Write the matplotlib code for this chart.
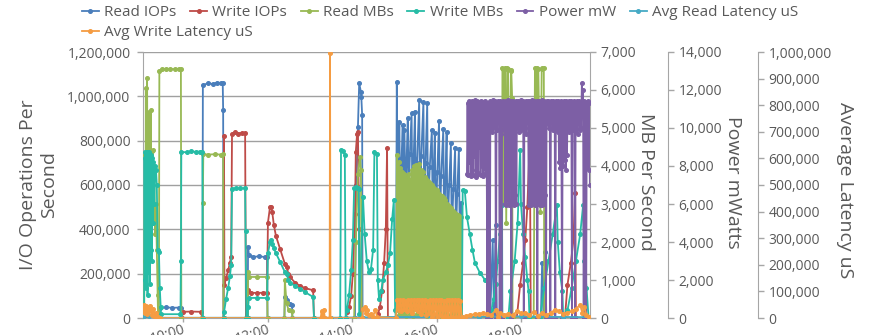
import numpy as np
import matplotlib
matplotlib.use("Agg")
import matplotlib.pyplot as plt
from matplotlib.ticker import FuncFormatter, MultipleLocator

plt.rcParams['font.family'] = ['Open Sans', 'DejaVu Sans']

# time of day in hours for every sample
read_iops_t = [9.08, 9.43, 9.45, 9.60, 9.75, 9.90, 9.95, 9.96,
               10.46, 10.47, 10.60, 10.70, 10.80, 10.90, 10.94, 10.95, 10.96,
               11.53, 11.54, 11.56, 11.65, 11.80, 11.95, 11.99, 12.00,
               12.40, 12.41, 12.46, 12.53, 12.58, 12.59,
               14.07, 14.10, 14.14, 14.17, 14.21, 14.22, 14.24, 14.25, 15.03,
               15.04, 15.06, 15.08, 15.10, 15.12, 15.14, 15.17, 15.20, 15.22, 15.24,
               15.27, 15.29, 15.32, 15.34, 15.37, 15.41, 15.43, 15.46, 15.49, 15.51,
               15.54, 15.59, 15.61, 15.64, 15.69, 15.71, 15.74, 15.78, 15.80, 15.84,
               15.89, 15.91, 15.93, 15.96, 15.98, 16.02, 16.06, 16.08, 16.11, 16.16,
               16.18, 16.21, 16.24, 16.26, 16.30, 16.34, 16.36, 16.40, 16.44, 16.46,
               16.49, 16.53, 16.55, 16.58, 16.60,
               17.27, 17.33, 17.36, 17.40, 17.43, 18.47, 18.50, 18.53, 18.57, 18.60, 19.59]
read_iops = [0, 0, 46000, 48000, 46000, 47000, 46000, 0,
             0, 1050000, 1060000, 1055000, 1062000, 1058000, 1060000, 940000, 0,
             0, 322000, 285000, 276000, 278000, 275000, 276000, 0,
             0, 95000, 80000, 65000, 60000, 0,
             0, 600000, 860000, 1059000, 1021000, 998000, 916000, 0, 0,
             0, 1066000, 560000, 720000, 886000, 520000, 700000, 871000, 500000, 848000,
             540000, 690000, 901000, 520000, 740000, 923000, 500000, 720000, 931000, 480000,
             700000, 983000, 470000, 730000, 976000, 460000, 700000, 968000, 450000, 680000,
             848000, 430000, 650000, 833000, 420000, 660000, 890000, 410000, 640000, 851000,
             400000, 620000, 840000, 390000, 600000, 788000, 380000, 580000, 766000, 370000,
             560000, 761000, 360000, 520000, 0,
             0, 350000, 20000, 420000, 0, 0, 250000, 10000, 300000, 0, 0]

write_iops_t = [9.08, 9.98, 9.99, 10.20, 10.43, 10.45, 10.96, 10.97, 10.98,
                11.02, 11.07, 11.11, 11.14, 11.16, 11.22, 11.30, 11.40, 11.47, 11.49,
                11.53, 11.54, 11.60, 11.75, 11.90, 11.99, 12.01, 12.06, 12.08, 12.11,
                12.15, 12.20, 12.30, 12.41, 12.46, 12.49, 12.53, 12.65, 12.77, 12.89,
                13.08, 13.10, 13.86, 13.88, 13.93, 13.98, 14.02, 14.07, 14.09, 14.12,
                14.14, 14.17, 14.19, 14.60, 14.62, 14.66, 14.71, 14.76, 14.80, 14.83,
                14.85, 17.90, 17.98, 18.05, 18.10, 18.15, 18.21, 18.23, 19.04, 19.10,
                19.18, 19.24, 19.28, 19.30, 19.60]
write_iops = [0, 0, 28000, 29000, 28000, 0, 0, 820000, 150000,
              180000, 215000, 250000, 275000, 830000, 838000, 832000, 836000, 834000, 0,
              0, 125000, 114000, 113000, 114000, 115000, 430000, 502000, 500000, 480000,
              420000, 370000, 310000, 245000, 230000, 200000, 185000, 160000, 145000, 135000,
              125000, 0, 0, 25000, 50000, 100000, 200000, 470000, 750000, 830000,
              840000, 400000, 0, 0, 20000, 50000, 120000, 250000, 400000, 767000,
              0, 0, 150000, 250000, 350000, 500000, 816000, 0, 0, 150000,
              250000, 350000, 564000, 0, 0]

read_mb_t = [9.08, 9.10, 9.11, 9.12, 9.13, 9.15, 9.16, 9.17, 9.18, 9.20,
             9.21, 9.22, 9.23, 9.24, 9.25, 9.27, 9.28, 9.29, 9.30, 9.32,
             9.34, 9.36, 9.38, 9.40, 9.41, 9.43, 9.44, 9.50, 9.60, 9.70,
             9.80, 9.90, 9.95, 9.96, 10.46, 10.47, 10.48, 10.60, 10.75, 10.90,
             10.95, 10.96, 11.53, 11.54, 11.56, 11.75, 11.99, 12.00, 12.40, 12.41,
             12.45, 12.50, 12.58, 12.59, 14.05, 14.09, 14.14, 14.19, 14.21, 14.23,
             15.03]
read_mb = [200, 4300, 1500, 6050, 2500, 6310, 3000, 4400, 2000, 5430,
           3500, 4200, 2800, 5480, 3200, 4400, 2600, 4420, 3000, 3800,
           2200, 3000, 1800, 600, 0, 0, 6500, 6560, 6540, 6555,
           6545, 6560, 6550, 0, 0, 3030, 4310, 4300, 4310, 4300,
           4310, 0, 0, 1200, 1080, 1080, 1080, 0, 0, 1000,
           400, 200, 180, 0, 0, 2000, 3800, 4240, 3900, 0,
           0]
# dense burst 15:02-16:36, sampled evenly
block_read_mb = [0, 4300, 200, 4100, 80, 3950, 300, 3850, 100, 3800,
                 150, 3750, 50, 3700, 250, 3800, 100, 3650, 200, 3900,
                 60, 4000, 300, 4030, 100, 3950, 150, 4050, 80, 3900,
                 200, 3850, 100, 3700, 250, 3650, 60, 3600, 150, 3550,
                 100, 3500, 200, 3450, 80, 3400, 300, 3370, 100, 3300,
                 150, 3250, 50, 3200, 250, 3150, 100, 3100, 200, 3000,
                 60, 2950, 300, 2900, 100, 2850, 150, 2800, 80, 2750,
                 200, 2700, 100, 2680, 150, 2660, 0]
read_mb_tail_t = [16.61, 17.55, 17.56, 17.58, 17.59, 17.62, 17.63, 17.65, 17.68, 17.69,
                  17.71, 17.76, 17.77, 17.79, 17.80, 18.30, 18.33, 18.35, 18.38, 18.39,
                  18.41, 18.46, 18.49, 18.50, 18.54, 18.55, 19.60]
read_mb_tail = [0, 0, 6570, 6560, 3000, 6570, 6550, 2500, 6570, 6560,
                3000, 6500, 6520, 5800, 0, 0, 6570, 6560, 3000, 6570,
                6550, 2800, 6570, 6560, 6570, 0, 0]

write_mb_t = [9.08, 9.09, 9.10, 9.11, 9.12, 9.13, 9.14, 9.15, 9.16, 9.17,
              9.18, 9.19, 9.20, 9.21, 9.22, 9.23, 9.24, 9.25, 9.26, 9.27,
              9.28, 9.30, 9.32, 9.34, 9.36, 9.38, 9.40, 9.43, 9.45, 9.47,
              9.48, 9.94, 9.95, 9.96, 10.10, 10.20, 10.30, 10.40, 10.46, 10.47,
              10.96, 10.97, 11.02, 11.07, 11.11, 11.14, 11.16, 11.25, 11.35, 11.47,
              11.48, 11.50, 11.53, 11.54, 11.56, 11.75, 11.99, 12.01, 12.06, 12.08,
              12.11, 12.15, 12.20, 12.30, 12.41, 12.46, 12.49, 12.53, 12.65, 12.77,
              12.89, 13.08, 13.10, 13.72, 13.74, 13.79, 13.83, 13.85, 13.88, 13.93,
              13.98, 14.02, 14.05, 14.10, 14.14, 14.16, 14.17, 14.26, 14.30, 14.35,
              14.40, 14.45, 14.50, 14.53, 14.59, 14.61, 14.64, 14.69, 14.73, 14.80,
              14.85, 14.90, 14.95, 14.99, 15.02, 15.04, 16.60, 16.62, 16.67, 16.72,
              16.79, 16.85, 16.91, 17.03, 17.15, 17.20, 17.22, 17.27, 17.30, 17.35,
              17.40, 17.45, 17.50, 17.55, 17.56, 17.70, 17.75, 17.85, 17.92, 17.98,
              18.00, 18.05, 18.10, 18.15, 18.18, 18.20, 18.45, 18.55, 18.65, 18.75,
              18.85, 18.87, 18.92, 18.98, 19.00, 19.10, 19.20, 19.30, 19.40, 19.47,
              19.50, 19.55, 19.60]
write_mb = [300, 4200, 1000, 4370, 800, 4300, 1500, 4370, 600, 4200,
            1200, 4370, 2000, 4300, 900, 4160, 1800, 4300, 1500, 4200,
            2500, 4100, 3000, 4000, 3900, 3500, 1790, 1750, 800, 300,
            100, 100, 1500, 4370, 4360, 4390, 4370, 4380, 4370, 0,
            0, 150, 500, 800, 1100, 1400, 3400, 3420, 3410, 3420,
            2300, 0, 0, 290, 526, 530, 526, 1700, 2000, 2053,
            1950, 1842, 1700, 1474, 1210, 1150, 1000, 921, 850, 763,
            680, 553, 0, 0, 4420, 4400, 4300, 0, 210, 605,
            1263, 2053, 3420, 3450, 3430, 3400, 100, 3180, 2200, 1500,
            1200, 1300, 1800, 4370, 4320, 1000, 500, 700, 1000, 1200,
            1400, 1700, 2600, 3100, 200, 0, 0, 3370, 3350, 2660,
            2200, 1800, 1450, 1184, 1000, 1000, 0, 0, 200, 500,
            900, 1500, 2200, 2970, 0, 0, 700, 1500, 2500, 4420,
            3000, 2200, 1600, 1000, 700, 0, 0, 800, 1500, 2200,
            2970, 2000, 1200, 700, 0, 200, 800, 1500, 2200, 2970,
            1500, 800, 0]

# power, sampled evenly 16:43-19:38
power_mw = [7600, 11300, 7500, 11400, 8200, 11350, 7450, 11200, 7800, 11400,
            7500, 11300, 8500, 11450, 7420, 11300, 7700, 11400, 7600, 11350,
            9000, 11300, 7500, 11400, 8000, 11300, 7450, 11350, 7900, 11400,
            7600, 11300, 8800, 0, 11200, 0, 11300, 0, 11400, 10200,
            11300, 9800, 11450, 10000, 11300, 10100, 11400, 0, 11350, 9900,
            11400, 10300, 11300, 0, 11400, 9700, 0, 11300, 10200, 11400,
            9900, 11300, 6000, 11400, 5950, 11300, 6200, 11450, 5950, 11350,
            7000, 11400, 0, 11300, 6000, 11400, 5950, 11300, 6500, 11400,
            6000, 11350, 10000, 11400, 9800, 11300, 10500, 11450, 9900, 11350,
            10200, 11400, 0, 11300, 10000, 11400, 9700, 11350, 10300, 11400,
            5950, 11400, 6000, 11300, 5950, 11450, 6200, 11350, 6000, 11400,
            5950, 11300, 6300, 11400, 0, 11350, 6000, 11400, 5950, 11300,
            6100, 11450, 5950, 11350, 6000, 11400, 6500, 11300, 0, 11400,
            10500, 10200, 11400, 10000, 11300, 0, 11400, 10300, 11350, 9900,
            11400, 10200, 11300, 0, 11400, 10000, 11350, 9800, 11400, 8200,
            11300, 7900, 11400, 8500, 0, 11350, 8000, 11400, 8300, 11300,
            7800, 11400, 8600, 11350, 10000, 11400, 9800, 11300, 10200, 11400,
            0, 11350, 9900, 11400, 10300, 0, 11300, 10000, 11400, 9700,
            11350, 10200, 11400, 9900, 11300, 10000, 12370, 10800, 12000, 0,
            11400, 10000, 11300, 0, 11350, 9900, 11400, 7800, 11300, 7000]

read_lat_t = [9.06, 9.20, 9.45, 13.50, 15.04, 16.60, 17.00, 18.00, 19.00, 19.62]
read_lat = [3000, 6000, 1000, 1000, 4000, 3000, 5000, 6000, 4000, 3000]

write_lat_t = [9.06, 9.08, 9.10, 9.12, 9.15, 9.18, 9.20, 9.23, 9.26, 9.30,
               9.33, 9.36, 9.40, 9.45, 13.26, 13.28, 13.30, 13.33, 13.36, 13.47,
               13.48, 13.49, 14.24, 14.26, 14.30, 14.33, 14.36, 14.40, 14.45, 14.50,
               14.55, 14.60, 15.03]
write_lat = [30000, 50000, 20000, 45000, 15000, 40000, 25000, 45000, 10000, 35000,
             5000, 20000, 3000, 0, 0, 25000, 5000, 30000, 0, 0,
             995000, 0, 0, 35000, 40000, 20000, 30000, 10000, 15000, 5000,
             30000, 3000, 0]
block_write_lat = [0, 67000, 30000, 66000, 25000, 67000, 35000, 65000, 28000, 67000,
                   30000, 66000, 20000, 67000, 32000, 66000, 25000, 67000, 15000, 66000,
                   30000, 67000, 10000, 65000, 20000, 67000, 5000, 66000, 15000, 67000,
                   0, 66000, 10000, 67000, 0, 65000, 8000, 67000, 0, 66000,
                   5000, 67000, 0, 66000, 3000, 67000, 0, 65000, 0]
write_lat_tail_t = [16.61, 16.70, 16.80, 16.90, 17.00, 17.10, 17.20, 17.30, 17.40, 17.45,
                    17.50, 17.60, 17.70, 17.80, 17.90, 18.00, 18.10, 18.20, 18.30, 18.40,
                    18.50, 18.60, 18.70, 18.80, 18.90, 19.00, 19.10, 19.20, 19.30, 19.40,
                    19.45, 19.50, 19.55, 19.62]
write_lat_tail = [2000, 8000, 12000, 14000, 16000, 18000, 15000, 10000, 30000, 5000,
                  20000, 12000, 15000, 10000, 25000, 18000, 20000, 12000, 22000, 8000,
                  18000, 10000, 20000, 30000, 25000, 15000, 20000, 25000, 35000, 49000,
                  20000, 40000, 10000, 5000]

hour_ticks = [10, 12, 14, 16, 18]
hour_labels = ['10:00', '12:00', '14:00', '16:00', '18:00']

block_t = np.linspace(15.04, 16.60, len(block_read_mb))
block_lat_t = np.linspace(15.04, 16.60, len(block_write_lat))
power_t = np.linspace(16.72, 19.63, len(power_mw))

colors = {
    'read_iops': '#4a7ebb', 'write_iops': '#be4b48', 'read_mb': '#98b954',
    'write_mb': '#26bca6', 'power': '#7d5fa5', 'read_lat': '#46aac5',
    'write_lat': '#f59c42',
}
txt = '#595959'
grey = '#a6a6a6'
style = dict(lw=1.3, marker='o', ms=2.6)

fig = plt.figure(figsize=(8.69, 3.35), dpi=100)
ax = fig.add_axes([143 / 869, 17 / 335, 447 / 869, 266 / 335])
ax2 = ax.twinx()
ax3 = ax.twinx()
ax4 = ax.twinx()

h1, = ax.plot(read_iops_t, read_iops, color=colors['read_iops'], label='Read IOPs', **style)
h2, = ax.plot(write_iops_t, write_iops, color=colors['write_iops'], label='Write IOPs', **style)

h3, = ax2.plot(read_mb_t + list(block_t) + read_mb_tail_t,
               read_mb + block_read_mb + read_mb_tail,
               color=colors['read_mb'], label='Read MBs', **style)
h4, = ax2.plot(write_mb_t, write_mb, color=colors['write_mb'], label='Write MBs', **style)

h5, = ax3.plot(power_t, power_mw, color=colors['power'], label='Power mW', **style)

h6, = ax4.plot(read_lat_t, read_lat, color=colors['read_lat'], label='Avg Read Latency uS', **style)
h7, = ax4.plot(write_lat_t + list(block_lat_t) + write_lat_tail_t,
               write_lat + block_write_lat + write_lat_tail,
               color=colors['write_lat'], label='Avg Write Latency uS', **style)

comma = FuncFormatter(lambda v, p: f"{v:,.0f}")

ax.set_xlim(9.053, 19.633)
ax.set_ylim(0, 1200000)
ax.yaxis.set_major_locator(MultipleLocator(200000))
ax.yaxis.set_major_formatter(comma)
ax.set_xticks(hour_ticks)
ax.set_xticklabels(hour_labels, rotation=17, ha='right', rotation_mode='anchor')
ax.grid(axis='y', color='#a0a0a0', lw=1)
ax.set_axisbelow(True)
ax.set_ylabel('I/O Operations Per\nSecond', fontsize=14, color=txt)
ax.yaxis.set_label_coords(-0.19, 0.5)

ax2.set_ylim(0, 7000)
ax2.yaxis.set_major_locator(MultipleLocator(1000))
ax2.yaxis.set_major_formatter(comma)
ax2.set_ylabel('MB Per Second', fontsize=14, color=txt, rotation=270, va='center')
ax2.yaxis.set_label_coords(1.125, 0.51)

ax3.set_ylim(0, 14000)
ax3.yaxis.set_major_locator(MultipleLocator(2000))
ax3.yaxis.set_major_formatter(comma)
ax3.spines['right'].set_position(('axes', 1 + 78 / 447))
ax3.set_ylabel('Power mWatts', fontsize=14, color=txt, rotation=270, va='center')
ax3.yaxis.set_label_coords(1.32, 0.51)

ax4.set_ylim(0, 1000000)
ax4.yaxis.set_major_locator(MultipleLocator(100000))
ax4.yaxis.set_major_formatter(comma)
ax4.spines['right'].set_position(('axes', 1 + 168 / 447))
ax4.set_ylabel('Average Latency uS', fontsize=14, color=txt, rotation=270, va='center')
ax4.yaxis.set_label_coords(1.571, 0.48)

for a in (ax, ax2, ax3, ax4):
    for name, sp in a.spines.items():
        sp.set_color(grey)
        if name == 'top':
            sp.set_visible(False)
    a.tick_params(colors=grey, labelcolor=txt, labelsize=10, length=4, width=1)
for a in (ax2, ax3, ax4):
    a.spines['left'].set_visible(False)
    a.spines['bottom'].set_visible(False)
ax.spines['right'].set_visible(False)
ax.tick_params(axis='y', pad=5)
ax.tick_params(axis='x', length=3, pad=0)

# Excel-style legend: six entries on the first row, the last one wrapped
leg_kw = dict(loc='upper left', frameon=False, fontsize=11, handlelength=1.1,
              handletextpad=0.35, columnspacing=0.9, borderpad=0,
              borderaxespad=0, labelcolor=txt)
row1 = [h1, h2, h3, h4, h5, h6]
fig.legend(row1, [h.get_label() for h in row1], ncol=6,
           bbox_to_anchor=(82 / 869, 1 - 5 / 335), **leg_kw)
fig.legend([h7], [h7.get_label()], ncol=1,
           bbox_to_anchor=(82 / 869, 1 - 25 / 335), **leg_kw)

fig.savefig('out.png', dpi=100)
plt.close(fig)
